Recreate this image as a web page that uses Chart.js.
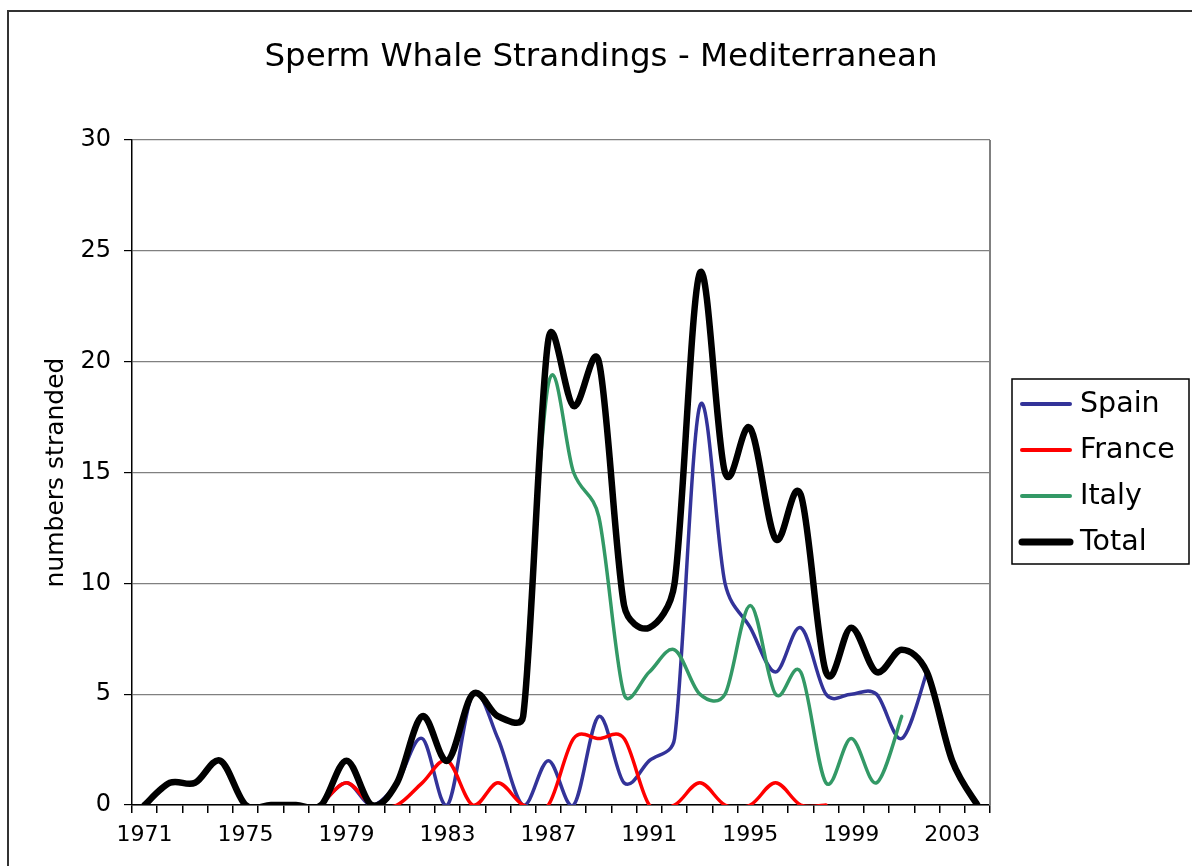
<!DOCTYPE html>
<html lang="en">
<head>
    <meta charset="UTF-8">
    <title>Sperm Whale Strandings - Mediterranean</title>
    <script src="https://cdn.jsdelivr.net/npm/chart.js"></script>
    <style>
        body {
            margin: 0;
            background-color: #ffffff;
        }
        canvas {
            display: block;
        }
    </style>
</head>
<body>
    <canvas id="strandings" width="1192" height="866"></canvas>
    <script>
        // values, one per year 1971..2004 (null = no data)
        const years = [1971, 1972, 1973, 1974, 1975, 1976, 1977, 1978, 1979, 1980,
            1981, 1982, 1983, 1984, 1985, 1986, 1987, 1988, 1989, 1990,
            1991, 1992, 1993, 1994, 1995, 1996, 1997, 1998, 1999, 2000,
            2001, 2002, 2003, 2004];

        const spain = [null, null, null, null, null, null, null, 0, 1, 0,
            1, 3, 0, 5, 3, 0, 2, 0, 4, 1,
            2, 3, 18, 10, 8, 6, 8, 5, 5, 5,
            3, 6, null, null];

        const france = [null, null, null, null, null, null, null, 0, 1, 0,
            0, 1, 2, 0, 1, 0, 0, 3, 3, 3,
            0, 0, 1, 0, 0, 1, 0, 0, null, null,
            null, null, null, null];

        const italy = [null, null, null, null, null, null, null, null, null, null,
            null, null, null, null, null, 4, 19, 15, 13, 5,
            6, 7, 5, 5, 9, 5, 6, 1, 3, 1,
            4, null, null, null];

        const total = [0, 1, 1, 2, 0, 0, 0, 0, 2, 0,
            1, 4, 2, 5, 4, 4, 21, 18, 20, 9,
            8, 10, 24, 15, 17, 12, 14, 6, 8, 6,
            7, 6, 2, 0];

        const yTicks = [0, 5, 10, 15, 20, 25, 30];

        const FONT = '"DejaVu Sans", Verdana, sans-serif';

        // Excel style smoothing: catmull-rom tangents (1/6), but a control
        // arm never longer than half of its own segment
        function arm(p, q, tx, ty) {
            const half = Math.hypot(q.x - p.x, q.y - p.y) / 2;
            const len = Math.hypot(tx, ty);
            const k = len > half && len > 0 ? half / len : 1;
            return [tx * k, ty * k];
        }

        const excelSmooth = {
            id: 'excelSmooth',
            beforeDatasetsDraw(chart) {
                chart.getSortedVisibleDatasetMetas().forEach(meta => {
                    const line = meta.dataset;
                    if (!line) return;
                    line.updateControlPoints(chart.chartArea, meta.indexAxis);
                    const pts = meta.data;
                    for (let i = 0; i < pts.length; i++) {
                        const p = pts[i];
                        if (p.skip) continue;
                        const prev = (i > 0 && !pts[i - 1].skip) ? pts[i - 1] : p;
                        const next = (i < pts.length - 1 && !pts[i + 1].skip) ? pts[i + 1] : p;
                        const tx = (next.x - prev.x) / 6;
                        const ty = (next.y - prev.y) / 6;
                        const [ax, ay] = arm(prev, p, tx, ty);
                        const [bx, by] = arm(p, next, tx, ty);
                        p.cp1x = p.x - ax;
                        p.cp1y = p.y - ay;
                        p.cp2x = p.x + bx;
                        p.cp2y = p.y + by;
                    }
                });
            }
        };

        // title, outer frame, plot border and legend box
        const extras = {
            id: 'extras',
            beforeDraw(chart) {
                const ctx = chart.ctx;
                ctx.save();
                ctx.fillStyle = '#ffffff';
                ctx.fillRect(0, 0, chart.width, chart.height);
                ctx.restore();
            },
            beforeDatasetsDraw(chart) {
                const ctx = chart.ctx;
                const a = chart.chartArea;
                ctx.save();
                ctx.strokeStyle = '#808080';
                ctx.lineWidth = 2;
                ctx.beginPath();
                ctx.moveTo(a.right, a.top);
                ctx.lineTo(a.right, a.bottom);
                ctx.stroke();
                ctx.restore();
            },
            afterDraw(chart) {
                const ctx = chart.ctx;
                ctx.save();

                // outer frame
                ctx.strokeStyle = '#333333';
                ctx.lineWidth = 2;
                ctx.strokeRect(8, 11, 1400, 1000);

                // title
                ctx.fillStyle = '#000000';
                ctx.font = '32.5px ' + FONT;
                ctx.textAlign = 'center';
                ctx.textBaseline = 'middle';
                ctx.fillText('Sperm Whale Strandings - Mediterranean', 601, 58);

                // legend
                ctx.fillStyle = '#ffffff';
                ctx.fillRect(1012, 379, 177, 185);
                ctx.strokeStyle = '#000000';
                ctx.lineWidth = 1.5;
                ctx.strokeRect(1012, 379, 177, 185);
                ctx.font = '28.5px ' + FONT;
                ctx.textAlign = 'left';
                chart.data.datasets.forEach((ds, i) => {
                    const y = 404 + i * 46;
                    ctx.strokeStyle = ds.borderColor;
                    ctx.lineWidth = ds.label === 'Total' ? 7 : 4;
                    ctx.lineCap = 'round';
                    ctx.beginPath();
                    ctx.moveTo(1022, y);
                    ctx.lineTo(1070, y);
                    ctx.stroke();
                    ctx.fillStyle = '#000000';
                    ctx.fillText(ds.label, 1080, y + 1);
                });
                ctx.restore();
            }
        };

        const lineStyle = {
            fill: false,
            pointRadius: 0,
            pointHoverRadius: 0,
            tension: 0.35,
            spanGaps: false,
            borderJoinStyle: 'round',
            borderCapStyle: 'round'
        };

        new Chart(document.getElementById('strandings'), {
            type: 'line',
            data: {
                labels: years,
                datasets: [
                    { ...lineStyle, label: 'Spain', data: spain, borderColor: '#333399', borderWidth: 3.5, order: 4 },
                    { ...lineStyle, label: 'France', data: france, borderColor: '#ff0000', borderWidth: 3.5, order: 3 },
                    { ...lineStyle, label: 'Italy', data: italy, borderColor: '#339966', borderWidth: 3.5, order: 2 },
                    { ...lineStyle, label: 'Total', data: total, borderColor: '#000000', borderWidth: 6.5, order: 1 }
                ]
            },
            options: {
                responsive: false,
                animation: false,
                devicePixelRatio: 1,
                layout: {
                    padding: { left: 0, right: 202, top: 140, bottom: 0 }
                },
                plugins: {
                    legend: { display: false },
                    title: { display: false },
                    tooltip: { enabled: false }
                },
                scales: {
                    x: {
                        type: 'category',
                        offset: true,
                        afterFit(scale) { scale.height = 61; },
                        grid: {
                            offset: true,
                            drawOnChartArea: false,
                            drawTicks: true,
                            tickLength: 8,
                            color: '#000000',
                            lineWidth: 1.5
                        },
                        border: { display: true, color: '#000000', width: 1.5 },
                        ticks: {
                            autoSkip: false,
                            maxRotation: 0,
                            minRotation: 0,
                            padding: 9,
                            color: '#000000',
                            font: { family: FONT, size: 22 },
                            callback(value, index) {
                                return index % 4 === 0 ? String(years[index]) : '';
                            }
                        }
                    },
                    y: {
                        min: 0,
                        max: 30,
                        afterFit(scale) { scale.width = 132; },
                        afterBuildTicks(scale) {
                            scale.ticks = yTicks.map(v => ({ value: v }));
                        },
                        grid: {
                            color: '#808080',
                            lineWidth: 1.2,
                            tickColor: '#000000',
                            tickLength: 8,
                            drawTicks: true
                        },
                        border: { display: true, color: '#000000', width: 1.5 },
                        ticks: {
                            padding: 13,
                            color: '#000000',
                            font: { family: FONT, size: 24 }
                        },
                        title: {
                            display: true,
                            text: 'numbers stranded',
                            color: '#000000',
                            font: { family: FONT, size: 25 },
                            padding: { top: 41, bottom: 0 }
                        }
                    }
                }
            },
            plugins: [excelSmooth, extras]
        });
    </script>
</body>
</html>
